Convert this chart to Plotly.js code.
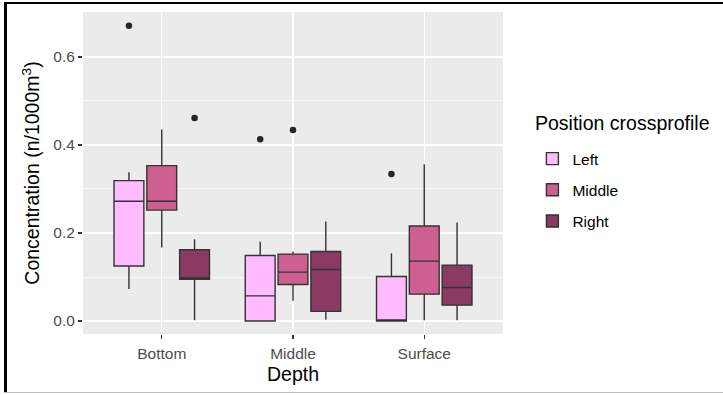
<!DOCTYPE html>
<html>
<head>
<meta charset="utf-8">
<script src="https://cdn.plot.ly/plotly-3.0.1.min.js"></script>
<style>
  html, body { margin: 0; padding: 0; background: #fff; }
  #wrap { position: relative; width: 723px; height: 395px; }
  #chart { width: 723px; height: 395px; }
  #frameTop { position: absolute; left: 4px; top: 2px; width: 719px; height: 2px; background: #000; pointer-events: none; }
  #frameLeft { position: absolute; left: 4px; top: 2px; width: 3px; height: 391px; background: #000; pointer-events: none; }
  #frameBottom { position: absolute; left: 4px; top: 392px; width: 719px; height: 1px; background: #bdbdbd; pointer-events: none; }
  #keyBg { position: absolute; left: 532px; top: 140px; width: 31px; height: 93px; background: #f2f2f2; pointer-events: none; }
</style>
</head>
<body>
<div id="wrap">
  <div id="keyBg"></div>
  <div id="chart"></div>
  <div id="frameTop"></div>
  <div id="frameLeft"></div>
  <div id="frameBottom"></div>
</div>
<script>
// Categories
var depths = ['Bottom', 'Middle', 'Surface'];
var positions = ['Left', 'Middle', 'Right'];
var colors = ['#FFBBFF', '#CD6090', '#8B3A62'];
var legendTitle = 'Position crossprofile';

// Box statistics per position, ordered by depths (Bottom, Middle, Surface)
var leftLower   = [0.073, 0.000, 0.000];
var leftQ1      = [0.125, 0.000, 0.000];
var leftMedian  = [0.272, 0.057, 0.002];
var leftQ3      = [0.319, 0.149, 0.101];
var leftUpper   = [0.338, 0.180, 0.154];
var leftOut     = [[0.671], [0.413], [0.334]];

var midLower    = [0.167, 0.046, 0.002];
var midQ1       = [0.252, 0.083, 0.061];
var midMedian   = [0.272, 0.111, 0.136];
var midQ3       = [0.353, 0.152, 0.216];
var midUpper    = [0.435, 0.158, 0.356];
var midOut      = [[], [0.434], []];

var rightLower  = [0.002, 0.003, 0.002];
var rightQ1     = [0.095, 0.022, 0.036];
var rightMedian = [0.098, 0.117, 0.076];
var rightQ3     = [0.162, 0.158, 0.127];
var rightUpper  = [0.186, 0.226, 0.224];
var rightOut    = [[0.461], [], []];

var stats = [
  [leftLower, leftQ1, leftMedian, leftQ3, leftUpper, leftOut],
  [midLower, midQ1, midMedian, midQ3, midUpper, midOut],
  [rightLower, rightQ1, rightMedian, rightQ3, rightUpper, rightOut]
];

var traces = positions.map(function (p, i) {
  var s = stats[i];
  // sample points: whisker ends plus outliers (only outliers are drawn)
  var pts = depths.map(function (d, j) { return [s[0][j], s[4][j]].concat(s[5][j]); });
  return {
    type: 'box',
    name: p,
    legendgroup: p,
    x: depths,
    y: pts,
    lowerfence: s[0],
    q1: s[1],
    median: s[2],
    q3: s[3],
    upperfence: s[4],
    boxpoints: 'outliers',
    pointpos: 0,
    jitter: 0,
    whiskerwidth: 0,
    fillcolor: colors[i],
    line: { color: '#333333', width: 1.4 },
    marker: { color: '#262626', size: 6.5, outliercolor: '#262626', line: { width: 0 } },
    hoverinfo: 'skip'
  };
});

var layout = {
  width: 723,
  height: 395,
  autosize: false,
  paper_bgcolor: '#ffffff',
  plot_bgcolor: '#EBEBEB',
  margin: { l: 83, r: 220, t: 12, b: 61, pad: 0 },
  font: { family: 'Liberation Sans, Arial, sans-serif', color: '#000' },
  boxmode: 'group',
  boxgap: 0.25,
  boxgroupgap: 0.09,
  showlegend: true,
  legend: {
    x: 1.07, xanchor: 'left',
    y: 0.596, yanchor: 'top',
    bgcolor: 'rgba(0,0,0,0)',
    font: { size: 15.5, color: '#000' },
    tracegroupgap: 8,
    traceorder: 'grouped'
  },
  annotations: [{
    text: legendTitle,
    xref: 'paper', yref: 'paper',
    x: 1.0714, y: 0.655,
    xanchor: 'left', yanchor: 'middle',
    showarrow: false,
    font: { size: 19.5, color: '#000' }
  }],
  xaxis: {
    type: 'category',
    categoryarray: depths,
    categoryorder: 'array',
    range: [-0.6, 2.6],
    showgrid: true,
    gridcolor: '#ffffff',
    gridwidth: 1.3,
    zeroline: false,
    showline: false,
    ticks: 'outside',
    ticklen: 4,
    tickwidth: 1.2,
    tickcolor: '#333333',
    ticklabelstandoff: 1,
    tickfont: { size: 15.5, color: '#4D4D4D' },
    title: { text: 'Depth', font: { size: 19.5, color: '#000' }, standoff: 6 }
  },
  yaxis: {
    range: [-0.0295, 0.702],
    tickvals: [0, 0.2, 0.4, 0.6],
    ticktext: ['0.0', '0.2', '0.4', '0.6'],
    showgrid: true,
    gridcolor: '#ffffff',
    gridwidth: 1.3,
    minor: { tickvals: [0.1, 0.3, 0.5], showgrid: true, gridcolor: '#ffffff', gridwidth: 0.6, ticks: '' },
    zeroline: false,
    showline: false,
    ticks: 'outside',
    ticklen: 4,
    tickwidth: 1.2,
    tickcolor: '#333333',
    tickfont: { size: 15.5, color: '#4D4D4D' },
    title: { text: 'Concentration (n/1000m<sup>3</sup>)', font: { size: 19.5, color: '#000' }, standoff: 8 }
  }
};

Plotly.newPlot('chart', traces, layout, { displayModeBar: false, staticPlot: true });
</script>
</body>
</html>
